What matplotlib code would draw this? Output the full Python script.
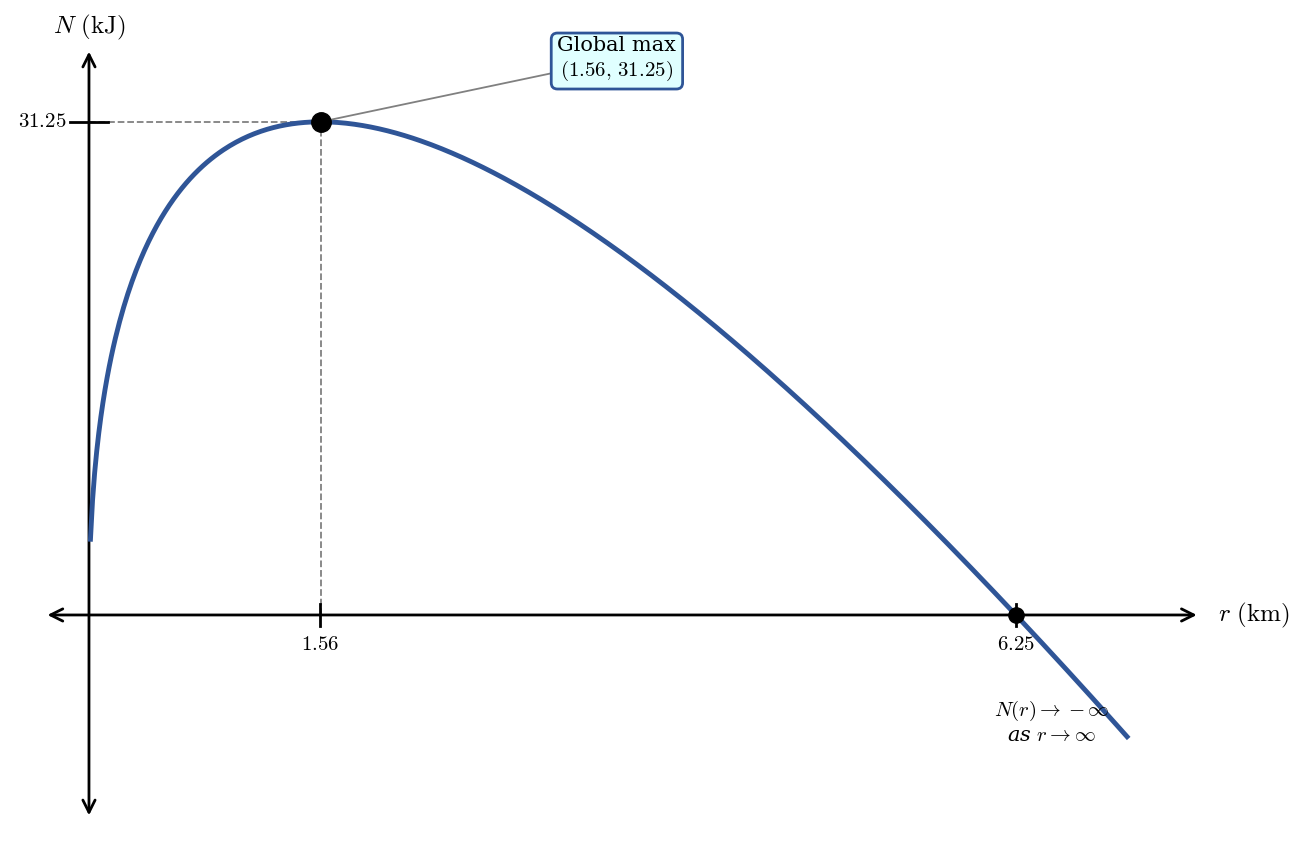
import numpy as np
import matplotlib.pyplot as plt

plt.rcParams['mathtext.fontset'] = 'cm'
plt.rcParams['font.family'] = 'DejaVu Serif'

# N(r) = 50*sqrt(r) - 20*r
a_coef = 50
b_coef = 20
r_start = 0.01
r_end = 7.0
r_max = 1.5625
N_max = 31.25
r_zero = 6.25
tick_x = [1.56, 6.25]
tick_x_labels = ['1.56', '6.25']
tick_y = [31.25]
tick_y_labels = ['31.25']

r = np.linspace(r_start, r_end, 500)
N = a_coef * np.sqrt(r) - b_coef * r

fig = plt.figure(figsize=(13.08, 8.67), dpi=100)
ax = fig.add_axes([0, 0, 1, 1])
ax.set_xlim(-0.600, 8.22)
ax.set_ylim(-15.97, 38.97)
ax.axis('off')

curve_col = '#2f5597'

# axes with arrows
ax.annotate('', xy=(7.47, 0), xytext=(-0.28, 0),
            arrowprops=dict(arrowstyle='<->', lw=2, color='black', mutation_scale=22,
                            shrinkA=0, shrinkB=0))
ax.annotate('', xy=(0, 35.7), xytext=(0, -12.7),
            arrowprops=dict(arrowstyle='<->', lw=2, color='black', mutation_scale=22,
                            shrinkA=0, shrinkB=0))

# guide lines
ax.plot([0, r_max], [N_max, N_max], '--', color='gray', lw=1.3, zorder=1)
ax.plot([r_max, r_max], [0, N_max], '--', color='gray', lw=1.3, zorder=1)

ax.plot(r, N, color=curve_col, lw=3.5, zorder=3)

# ticks
for tx, tl in zip(tick_x, tick_x_labels):
    ax.plot([tx, tx], [-0.7, 0.7], color='black', lw=2, zorder=2)
    ax.text(tx, -1.84, '$' + tl + '$', ha='center', va='center', fontsize=15)
for ty, tl in zip(tick_y, tick_y_labels):
    ax.plot([-0.128, 0.128], [ty, ty], color='black', lw=2, zorder=2)
    ax.text(-0.15, ty, '$' + tl + '$', ha='right', va='center', fontsize=15)

ax.plot(r_max, N_max, 'o', color='black', ms=14, zorder=5)
ax.plot(r_zero, 0, 'o', color='black', ms=11, zorder=5)

ax.text(0, 37.2, r'$N\ \mathrm{(kJ)}$', ha='center', va='center', fontsize=18)
ax.text(7.61, 0, r'$r\ \mathrm{(km)}$', ha='left', va='center', fontsize=18)

ax.annotate('Global max\n' + r'$(1.56,\,31.25)$', xy=(r_max, N_max), xytext=(3.56, 35.2),
            ha='center', va='center', fontsize=15,
            bbox=dict(boxstyle='round,pad=0.3', fc='#e0ffff', ec=curve_col, lw=2),
            arrowprops=dict(arrowstyle='-', color='gray', lw=1.3, shrinkA=0, shrinkB=5))

ax.text(6.49, -6.8, r'$N(r) \to -\infty$' + '\n' + r'as $r \to \infty$',
        ha='center', va='center', fontsize=15, linespacing=1.2, fontstyle='italic')

fig.savefig('out.png', dpi=100)
